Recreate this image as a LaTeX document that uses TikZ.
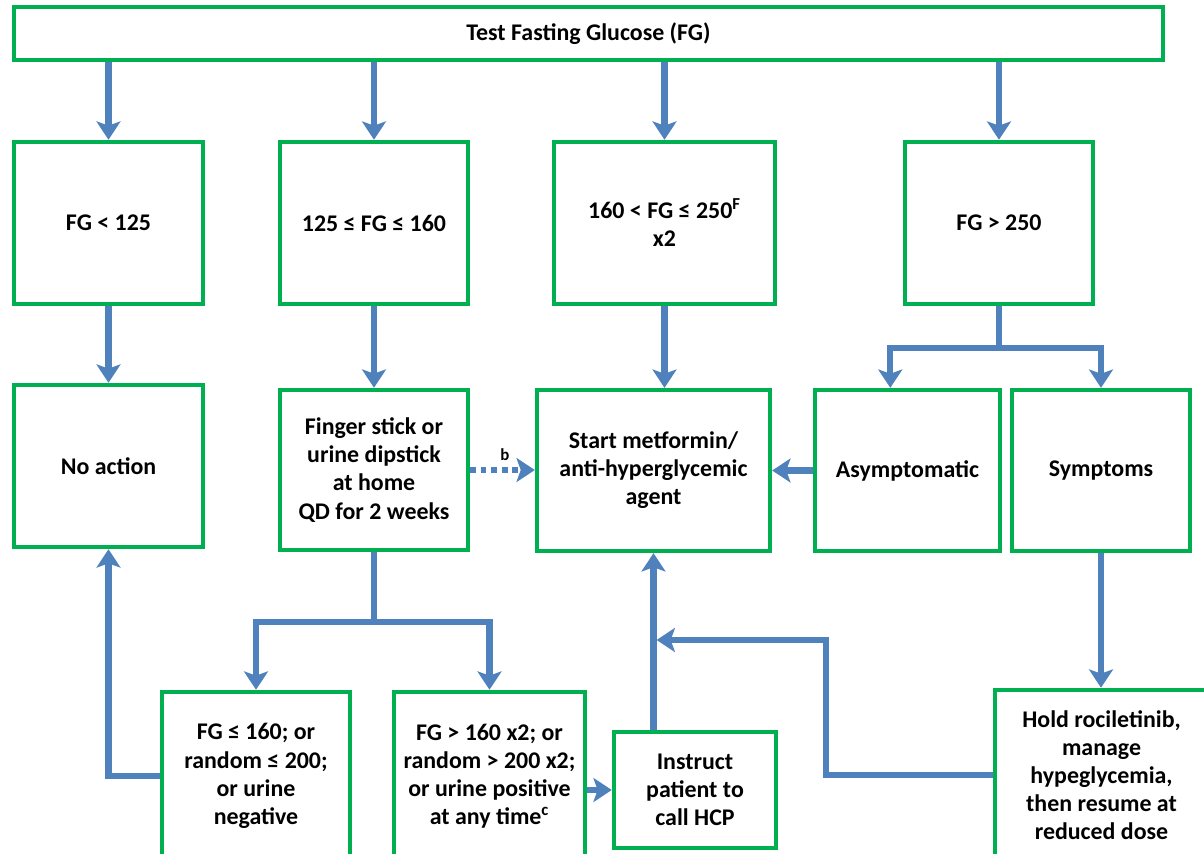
\documentclass[tikz,border=0pt]{standalone}
\usepackage{fontspec}
\setmainfont{Carlito}
\usepackage{xcolor}
\usetikzlibrary{arrows.meta, positioning, calc}

\definecolor{boxgreen}{HTML}{00B050}
\definecolor{flowblue}{HTML}{4F81BD}

\begin{document}
\begin{tikzpicture}[
    x=0.025cm, y=-0.025cm,
    box/.style={rectangle, draw=boxgreen, line width=3.2pt, fill=white,
                align=center, inner sep=2pt,
                font=\fontsize{17}{20}\selectfont\bfseries},
    link/.style={draw=flowblue, line width=4.5pt},
    arrow/.style={link, -{Stealth[length=13pt, width=17pt, inset=3pt]}},
    dotarrow/.style={arrow, dash pattern=on 4pt off 3.5pt},
    note/.style={font=\fontsize{12}{14}\selectfont\bfseries, inner sep=1pt}
]

\fill[white] (0,0) rectangle (1204,854);
\useasboundingbox (0,0) rectangle (1204,854);

%% ── Test and FG ranges ──────────────────────────────────────────────────────
\node[box, minimum width=28.72cm, minimum height=1.32cm] (fg) at (588.5,33.5)
      {Test Fasting Glucose (FG)};

\node[box, minimum width=4.72cm, minimum height=4.05cm] (low)   at (108.5,223) {FG < 125};
\node[box, minimum width=4.70cm, minimum height=4.05cm] (mid)   at (374,223)   {125 ≤ FG ≤ 160};
\node[box, minimum width=5.52cm, minimum height=4.05cm] (high)  at (664.5,223)
      {160 < FG ≤ 250\textsuperscript{F}\\x2};
\node[box, minimum width=4.70cm, minimum height=4.05cm] (vhigh) at (999,223)   {FG > 250};

\draw[arrow] (fg.south -| low.north)   -- (low.north);
\draw[arrow] (fg.south -| mid.north)   -- (mid.north);
\draw[arrow] (fg.south -| high.north)  -- (high.north);
\draw[arrow] (fg.south -| vhigh.north) -- (vhigh.north);

%% ── Second row ──────────────────────────────────────────────────────────────
\node[box, minimum width=4.72cm, minimum height=4.05cm] (noact)  at (108.5,466) {No action};
\node[box, minimum width=4.70cm, minimum height=4.00cm] (finger) at (374,470)
      {Finger stick or\\urine dipstick\\at home\\QD for 2 weeks};
\node[box, minimum width=5.82cm, minimum height=4.02cm] (metf)   at (653.5,470.5)
      {Start metformin/\\anti-hyperglycemic\\agent};
\node[box, minimum width=4.62cm, minimum height=4.02cm] (asym)   at (907.5,470.5) {Asymptomatic};
\node[box, minimum width=4.45cm, minimum height=4.02cm] (sympt)  at (1101,470.5)  {Symptoms};

\draw[arrow] (low.south)  -- (low.south |- noact.north);
\draw[arrow] (mid.south)  -- (mid.south |- finger.north);
\draw[arrow] (high.south) -- (high.south |- metf.north);

% FG > 250 splits
\coordinate (vsplit) at (999,348);
\draw[link]  (vhigh.south) -- (vsplit);
\draw[arrow] (vsplit) -| ([xshift=-0.43cm]asym.north);
\draw[arrow] (vsplit) -| (sympt.north);

\draw[dotarrow] (finger.east) -- (finger.east -| metf.west);
\node[note] (bmark) at (505,455) {b};
\draw[arrow] (asym.west) -- (asym.west -| metf.east);

%% ── Home test results ───────────────────────────────────────────────────────
\node[box, minimum width=4.70cm, minimum height=4.20cm] (ok)   at (256,776)
      {FG ≤ 160; or\\random ≤ 200;\\or urine\\negative};
\node[box, minimum width=4.78cm, minimum height=4.20cm] (pos)  at (489.5,776)
      {FG > 160 x2; or\\random > 200 x2;\\or urine positive\\at any time\textsuperscript{c}};
\node[box, minimum width=4.05cm, minimum height=2.90cm] (call) at (695,790)
      {Instruct\\patient to\\call HCP};
\node[box, minimum width=5.32cm, minimum height=4.25cm] (hold) at (1101.5,775)
      {Hold rociletinib,\\manage\\hypeglycemia,\\then resume at\\reduced dose};

\coordinate (fsplit) at (374,622);
\draw[link]  (finger.south) -- (fsplit);
\draw[arrow] (fsplit) -| (ok.north);
\draw[arrow] (fsplit) -| (pos.north);

\draw[arrow] (ok.west) -| (noact.south);
\draw[arrow] (pos.east |- call.west) -- (call.west);
\draw[arrow] (call.north -| metf.south) -- (metf.south);

\draw[arrow] (sympt.south) -- (sympt.south |- hold.north);

% back from hold to the metformin line
\coordinate (hturn) at (826,640);
\draw[arrow, shorten >=2.2pt] (hold.west) -| (hturn) -- (hturn -| metf.south);

\end{tikzpicture}
\end{document}
